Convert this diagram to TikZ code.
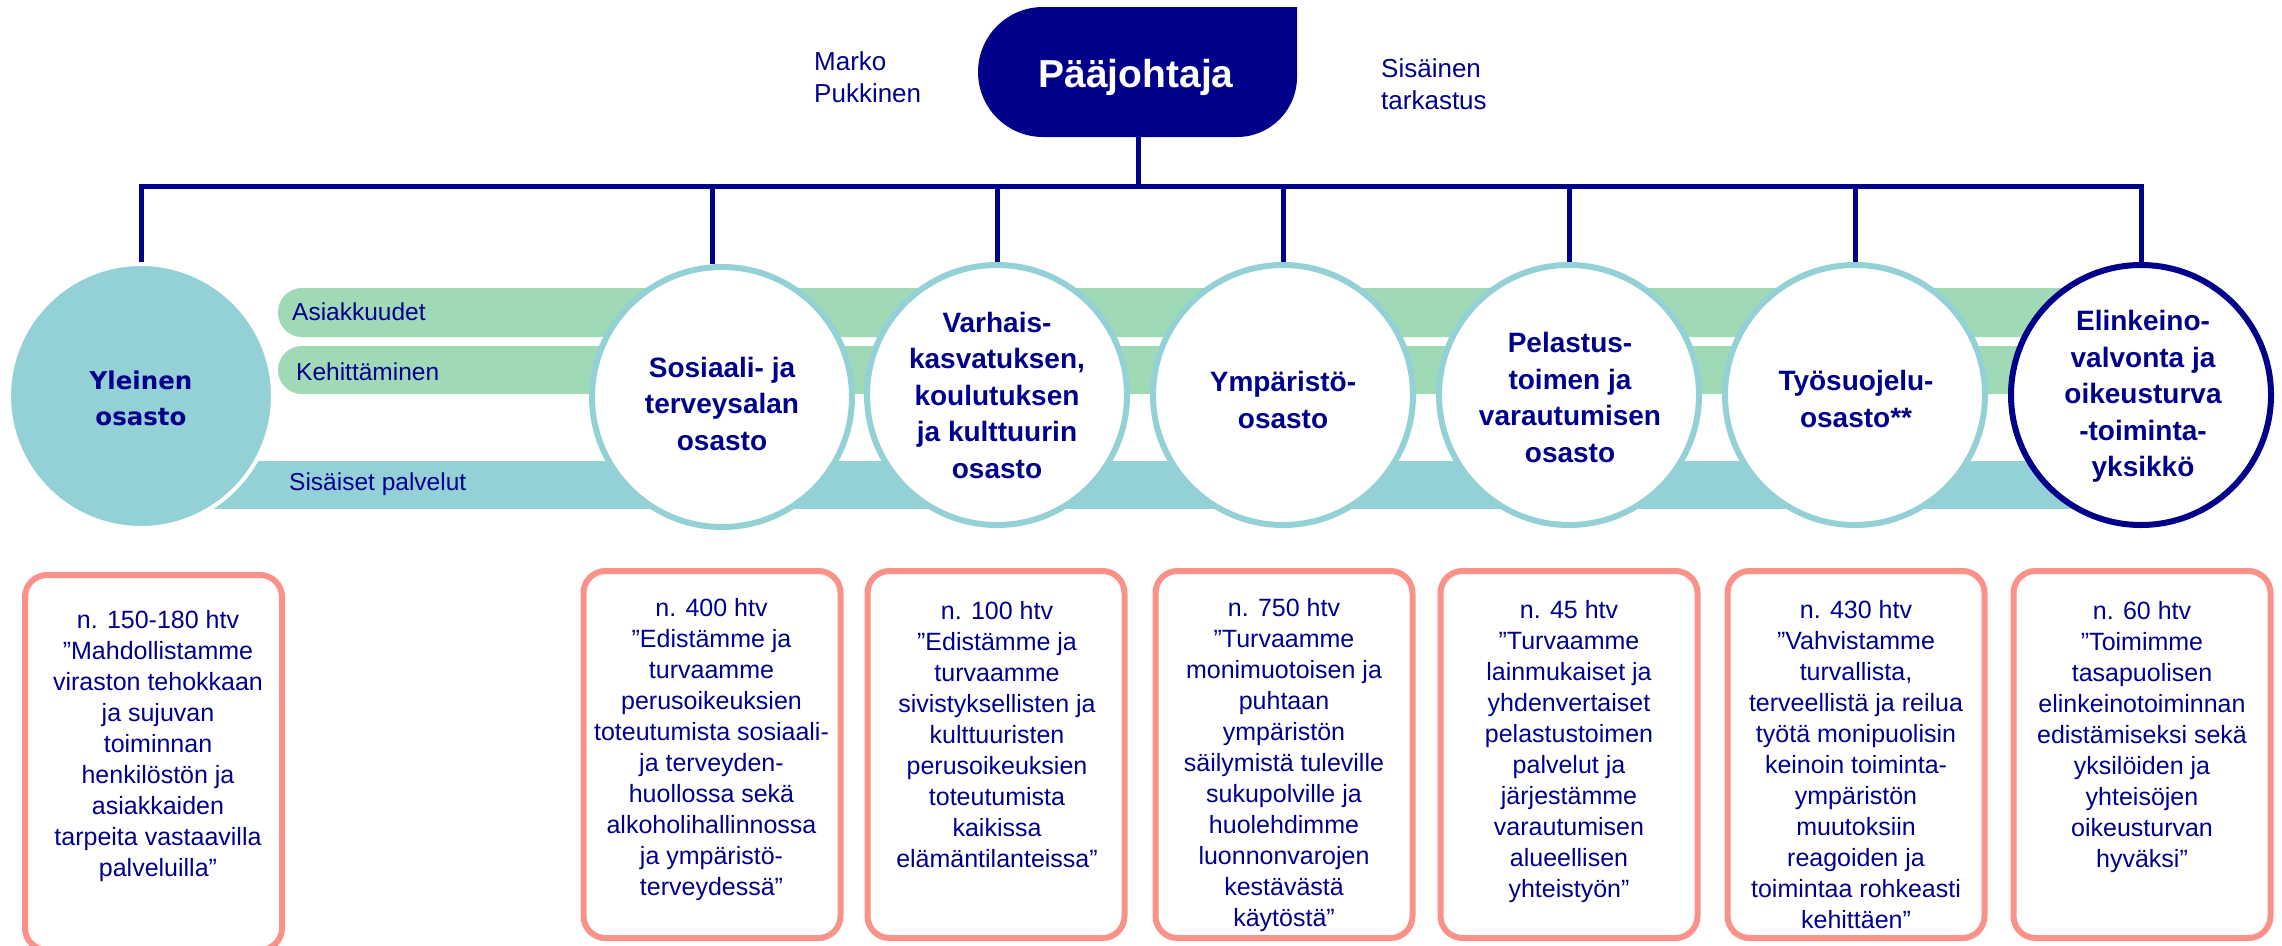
\documentclass[tikz,border=0pt]{standalone}
\usepackage{fontspec}
\setmainfont{Liberation Sans}
\newfontfamily\heavyfont{DejaVu Sans}
\definecolor{navy}{RGB}{0,0,139}
\definecolor{tealc}{RGB}{148,209,214}
\definecolor{greenc}{RGB}{159,217,182}
\definecolor{salmon}{RGB}{250,146,138}
\tikzset{
  conn/.style={draw=navy, line width=5pt},
  dept/.style={circle, minimum size=260pt, fill=white, draw=tealc, line width=6pt, inner sep=0pt},
  depttxt/.style={text=navy, font=\bfseries\fontsize{28}{36.5}\selectfont, align=center, inner sep=0pt},
  infobox/.style={draw=salmon, line width=6pt, rounded corners=22pt, minimum width=257pt, minimum height=367pt, inner sep=0pt},
  infotxt/.style={text=navy, font=\fontsize{25}{31}\selectfont, align=center, inner sep=0pt},
  barlabel/.style={text=navy, font=\fontsize{24.5}{30}\selectfont, anchor=base west, inner sep=0pt},
  sidetxt/.style={text=navy, font=\fontsize{26}{32}\selectfont, align=left, anchor=west, inner sep=0pt},
}
\begin{document}
\begin{tikzpicture}[x=1pt,y=-1pt]
\useasboundingbox (0,0) rectangle (2282,945);
\fill[white] (0,0) rectangle (2282,945);

% Director shape
\fill[navy] (1297,7) -- (1297,77) arc[start angle=0,end angle=90,radius=60]
  -- (1043,137) arc[start angle=90,end angle=270,radius=65] -- cycle;
\node[text=white, font=\bfseries\fontsize{39}{44}\selectfont, anchor=base, inner sep=0pt] (boss) at (1136,87) {Pääjohtaja};
\coordinate (bossbot) at (1138,137);
\node[sidetxt] (marko) at (814,77) {Marko\\Pukkinen};
\node[sidetxt] (sisa) at (1381,84) {Sisäinen\\tarkastus};

% bars
\fill[greenc, rounded corners=24pt] (278,288) rectangle (2141,337);
\fill[greenc, rounded corners=24pt] (278,346) rectangle (2141,394);
\fill[tealc] (150,461) rectangle (2141,509);
\node[barlabel] (asi) at (292,320) {Asiakkuudet};
\node[barlabel] (keh) at (296,380) {Kehittäminen};
\node[barlabel] (sis) at (289,490) {Sisäiset palvelut};

% circles
\node[circle, minimum size=264pt, fill=tealc, draw=white, line width=4pt, inner sep=0pt] (yle) at (141,396) {};
\node[dept] (soc) at (722,397) {};
\node[dept] (var) at (997,395) {};
\node[dept] (ymp) at (1283,395) {};
\node[dept] (pel) at (1569,395) {};
\node[dept] (tyo) at (1855,395) {};
\node[dept, draw=navy] (elk) at (2141,395) {};

% connectors
\coordinate (hl) at (1138,186);
\coordinate (d2) at (712,186);
\draw[conn] (yle.north) |- (hl) -| (elk.north);
\draw[conn] (bossbot) -- (hl);
\draw[conn] (d2) -- (d2 |- soc.north);
\draw[conn] (hl -| var.north) -- (var.north);
\draw[conn] (hl -| ymp.north) -- (ymp.north);
\draw[conn] (hl -| pel.north) -- (pel.north);
\draw[conn] (hl -| tyo.north) -- (tyo.north);

% circle titles
\node[text=navy, font=\heavyfont\bfseries\fontsize{24.5}{36}\selectfont, align=center, inner sep=0pt] (ylet) at (141,398) {Yleinen\\osasto};
\node[depttxt] (soct) at (722,403.5) {Sosiaali- ja\\terveysalan\\osasto};
\node[depttxt] (vart) at (997,395) {Varhais-\\kasvatuksen,\\koulutuksen\\ja kulttuurin\\osasto};
\node[depttxt] (ympt) at (1283,400) {Ympäristö-\\osasto};
\node[depttxt] (pelt) at (1570,397.5) {Pelastus-\\toimen ja\\varautumisen\\osasto};
\node[depttxt] (tyot) at (1856,399) {Työsuojelu-\\osasto**};
\node[depttxt] (elkt) at (2143,396.5) {Elinkeino-\\valvonta ja\\oikeusturva\\-toiminta-\\yksikkö};

% info boxes
\node[infobox, minimum height=375pt] (b1) at (153.5,762.5) {};
\node[infobox] (b2) at (712,754.5) {};
\node[infobox] (b3) at (996,754.5) {};
\node[infobox] (b4) at (1284,754.5) {};
\node[infobox] (b5) at (1569,754.5) {};
\node[infobox] (b6) at (1856,754.5) {};
\node[infobox] (b7) at (2142,754.5) {};

\node[infotxt] (t1) at (158,746) {n. 150-180 htv\\”Mahdollistamme\\viraston tehokkaan\\ja sujuvan\\toiminnan\\henkilöstön ja\\asiakkaiden\\tarpeita vastaavilla\\palveluilla”};
\node[infotxt] (t2) at (711.5,750) {n. 400 htv\\”Edistämme ja\\turvaamme\\perusoikeuksien\\toteutumista sosiaali-\\ja terveyden-\\huollossa sekä\\alkoholihallinnossa\\ja ympäristö-\\terveydessä”};
\node[infotxt] (t3) at (997,734.5) {n. 100 htv\\”Edistämme ja\\turvaamme\\sivistyksellisten ja\\kulttuuristen\\perusoikeuksien\\toteutumista\\kaikissa\\elämäntilanteissa”};
\node[infotxt] (t4) at (1284,765) {n. 750 htv\\”Turvaamme\\monimuotoisen ja\\puhtaan\\ympäristön\\säilymistä tuleville\\sukupolville ja\\huolehdimme\\luonnonvarojen\\kestävästä\\käytöstä”};
\node[infotxt] (t5) at (1569,752) {n. 45 htv\\”Turvaamme\\lainmukaiset ja\\yhdenvertaiset\\pelastustoimen\\palvelut ja\\järjestämme\\varautumisen\\alueellisen\\yhteistyön”};
\node[infotxt] (t6) at (1856,765) {n. 430 htv\\”Vahvistamme\\turvallista,\\terveellistä ja reilua\\työtä monipuolisin\\keinoin toiminta-\\ympäristön\\muutoksiin\\reagoiden ja\\toimintaa rohkeasti\\kehittäen”};
\node[infotxt] (t7) at (2142,737) {n. 60 htv\\”Toimimme\\tasapuolisen\\elinkeinotoiminnan\\edistämiseksi sekä\\yksilöiden ja\\yhteisöjen\\oikeusturvan\\hyväksi”};
\end{tikzpicture}
\end{document}
